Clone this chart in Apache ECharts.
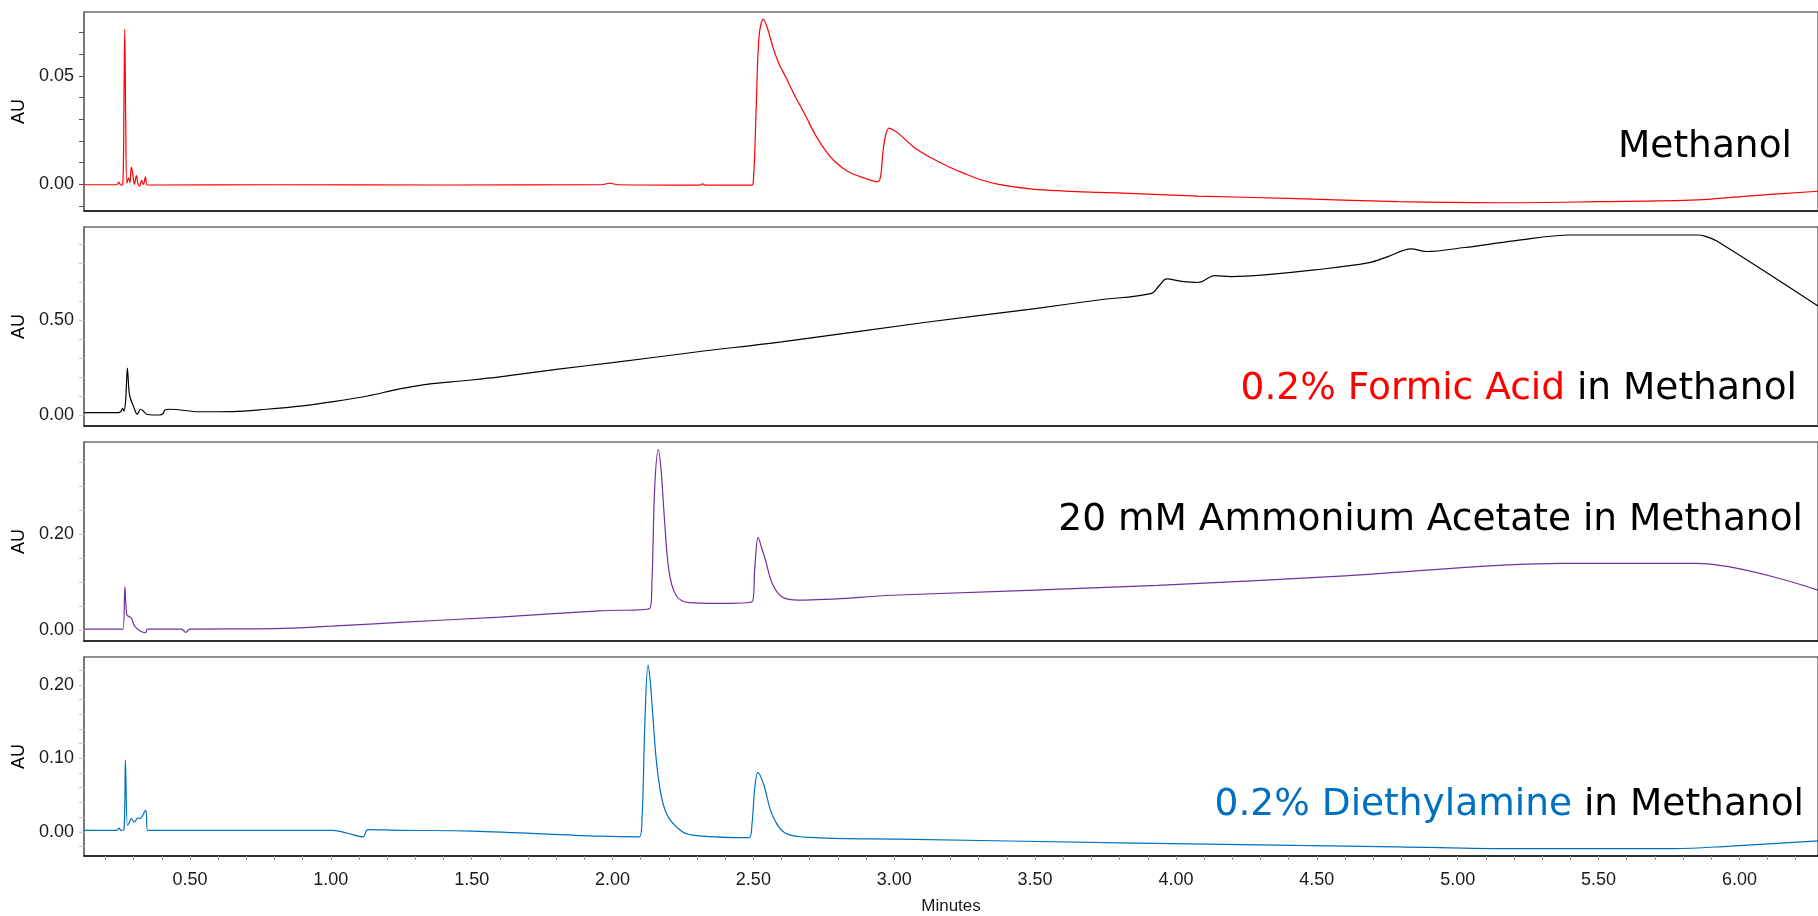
<!DOCTYPE html>
<html>
<head>
<meta charset="utf-8">
<title>Mobile phase additive comparison</title>
<script src="https://cdn.jsdelivr.net/npm/echarts@6/dist/echarts.min.js"></script>
<style>
  html, body { margin: 0; padding: 0; background: #ffffff; }
  #chart { width: 1818px; height: 916px; }
</style>
</head>
<body>
<div id="chart"></div>
<script>
// Retention time axis (minutes)
const timeMin = 0.124;
const timeMax = 6.279;

// Methanol (red trace)
const methanolT = [0.125, 0.24, 0.247, 0.255, 0.262, 0.266, 0.2686, 0.272, 0.276, 0.282, 0.287, 0.292, 0.298, 0.303, 0.31, 0.316, 0.322, 0.328, 0.335, 0.342, 0.348, 0.36, 0.8, 1.4, 1.96, 1.99, 2.02, 2.31, 2.32, 2.33, 2.49, 2.499, 2.51, 2.52, 2.535, 2.55, 2.57, 2.59, 2.614, 2.649, 2.684, 2.72, 2.755, 2.79, 2.837, 2.896, 2.942, 2.952, 2.96, 2.97, 2.982, 3.0, 3.015, 3.075, 3.134, 3.193, 3.252, 3.31, 3.37, 3.49, 3.607, 3.725, 3.9, 4.079, 4.4, 4.788, 5.142, 5.497, 5.851, 6.028, 6.279];
const methanolAU = [-0.0002, -0.0002, 0.001, -0.0004, 0.0, 0.04, 0.0716, 0.03, 0.0005, 0.003, 0.0008, 0.008, 0.004, 0.0, 0.004, 0.0, -0.0008, 0.0018, 0.0, 0.0035, -0.0003, -0.0003, -0.0002, -0.0003, -0.0002, 0.0005, -0.0002, -0.0004, 0.0002, -0.0004, -0.0004, 0.0, 0.035, 0.068, 0.0762, 0.072, 0.063, 0.0559, 0.0497, 0.0404, 0.032, 0.0228, 0.0158, 0.0104, 0.0058, 0.0028, 0.0012, 0.004, 0.015, 0.023, 0.0259, 0.0248, 0.0235, 0.0166, 0.012, 0.0081, 0.0048, 0.002, 0.0, -0.0022, -0.0031, -0.0037, -0.0045, -0.0054, -0.0065, -0.008, -0.0085, -0.008, -0.0072, -0.0054, -0.0032];

// 0.2% formic acid in methanol (black trace)
const formicT = [0.125, 0.245, 0.255, 0.261, 0.266, 0.272, 0.278, 0.283, 0.287, 0.3, 0.313, 0.325, 0.335, 0.346, 0.37, 0.393, 0.405, 0.411, 0.429, 0.535, 0.65, 0.772, 0.9, 1.008, 1.13, 1.244, 1.36, 1.47, 1.6, 1.8, 2.0, 2.29, 2.6, 3.113, 3.5, 3.725, 3.914, 3.94, 3.967, 4.02, 4.079, 4.138, 4.197, 4.315, 4.492, 4.681, 4.752, 4.835, 4.888, 5.024, 5.2, 5.4, 5.851, 5.88, 5.92, 6.279];
const formicAU = [0.012, 0.012, 0.018, 0.035, 0.02, 0.08, 0.246, 0.14, 0.096, 0.044, 0.004, 0.03, 0.02, 0.004, 0.0, 0.0, 0.008, 0.026, 0.03, 0.017, 0.018, 0.03, 0.048, 0.07, 0.1, 0.137, 0.165, 0.18, 0.2, 0.24, 0.275, 0.33, 0.385, 0.488, 0.56, 0.605, 0.64, 0.68, 0.716, 0.703, 0.697, 0.733, 0.728, 0.737, 0.763, 0.8, 0.833, 0.874, 0.86, 0.881, 0.916, 0.947, 0.947, 0.94, 0.915, 0.573];

// 20 mM ammonium acetate in methanol (purple trace)
const acetateT = [0.125, 0.262, 0.269, 0.276, 0.285, 0.293, 0.3, 0.305, 0.323, 0.343, 0.349, 0.47, 0.485, 0.5, 0.8, 1.0, 1.244, 1.6, 1.953, 2.132, 2.14, 2.15, 2.163, 2.173, 2.183, 2.2, 2.225, 2.272, 2.366, 2.496, 2.505, 2.517, 2.53, 2.543, 2.567, 2.602, 2.662, 3.016, 3.934, 4.6, 5.373, 5.845, 6.279];
const acetateAU = [0.002, 0.002, 0.09, 0.031, 0.028, 0.024, 0.012, 0.007, -0.002, -0.0055, 0.002, 0.002, -0.005, 0.002, 0.003, 0.008, 0.016, 0.027, 0.04, 0.045, 0.1, 0.3, 0.376, 0.33, 0.243, 0.125, 0.073, 0.057, 0.0555, 0.059, 0.13, 0.193, 0.17, 0.146, 0.097, 0.069, 0.0625, 0.073, 0.093, 0.113, 0.139, 0.139, 0.083];

// 0.2% diethylamine in methanol (blue trace)
const diethylT = [0.125, 0.24, 0.248, 0.255, 0.266, 0.271, 0.278, 0.284, 0.291, 0.303, 0.315, 0.323, 0.343, 0.35, 1.008, 1.06, 1.114, 1.132, 1.244, 1.5, 1.953, 2.095, 2.105, 2.115, 2.126, 2.134, 2.142, 2.16, 2.189, 2.248, 2.307, 2.484, 2.495, 2.505, 2.516, 2.537, 2.567, 2.614, 2.72, 3.016, 3.8, 4.788, 5.2, 5.767, 5.968, 6.279];
const diethylAU = [0.002, 0.002, 0.005, 0.002, 0.003, 0.098, 0.009, 0.012, 0.018, 0.013, 0.019, 0.018, 0.0296, 0.002, 0.002, -0.002, -0.007, 0.003, 0.002, 0.001, -0.006, -0.007, 0.02, 0.15, 0.227, 0.205, 0.164, 0.082, 0.027, 0.0, -0.0055, -0.008, 0.01, 0.06, 0.081, 0.064, 0.023, -0.002, -0.008, -0.01, -0.015, -0.0205, -0.023, -0.023, -0.0195, -0.0125];

// Y ranges, tick steps and labelled steps for each panel
const yMins = [-0.0123, -0.058, -0.0229, -0.033];
const yMaxs = [0.0795, 0.989, 0.392, 0.238];
const yTickSteps = [0.01, 0.1, 0.05, 0.02];
const yLabelSteps = [0.05, 0.5, 0.2, 0.1];

// Panel captions: [coloured part, colour, plain part]
const captions = [
  ['', '#000000', 'Methanol'],
  ['0.2% Formic Acid', '#ff0000', ' in Methanol'],
  ['', '#000000', '20 mM Ammonium Acetate in Methanol'],
  ['0.2% Diethylamine', '#0070c0', ' in Methanol']
];
const xLabelStep = 0.5;
const xTickStep = 0.1;

const traces = [
  { t: methanolT, v: methanolAU, color: '#ff0000' },
  { t: formicT, v: formicAU, color: '#000000' },
  { t: acetateT, v: acetateAU, color: '#7030a0' },
  { t: diethylT, v: diethylAU, color: '#0070c0' }
];

const panelTops = [12, 227, 442, 657];
const panelHeight = 199;
const captionRight = [1792, 1797, 1803, 1804];
const captionBaseline = [160, 402, 533, 818];

const tickFont = { fontFamily: '"Liberation Sans", Arial, sans-serif', fontSize: 18, color: '#1a1a1a' };
const captionFont = '"DejaVu Sans", Verdana, sans-serif';

function onStep(v, step) {
  const r = v / step;
  return Math.abs(r - Math.round(r)) < 1e-6;
}

const grids = [], xAxes = [], yAxes = [], series = [], graphics = [];

traces.forEach((tr, i) => {
  const last = i === traces.length - 1;
  grids.push({
    left: 84, right: -3, top: panelTops[i], height: panelHeight,
    show: true, borderColor: '#6e6e6e', borderWidth: 1.5, containLabel: false
  });
  xAxes.push({
    type: 'value', gridIndex: i, min: timeMin, max: timeMax,
    minInterval: xTickStep, maxInterval: xTickStep,
    axisLine: { show: true, onZero: false, lineStyle: { color: '#111', width: 1.5 } },
    axisTick: { show: last, length: 4, lineStyle: { color: '#9a9a9a', width: 1 } },
    axisLabel: {
      show: last, margin: 15, ...tickFont,
      showMinLabel: false, showMaxLabel: false,
      formatter: v => onStep(v, xLabelStep) ? v.toFixed(2) : ''
    },
    splitLine: { show: false },
    name: last ? 'Minutes' : '', nameLocation: 'middle', nameGap: 42,
    nameTextStyle: { ...tickFont, fontSize: 17 }
  });
  yAxes.push({
    type: 'value', gridIndex: i, min: yMins[i], max: yMaxs[i],
    minInterval: yTickSteps[i], maxInterval: yTickSteps[i],
    axisLine: { show: true, lineStyle: { color: '#6e6e6e', width: 1.5 } },
    axisTick: { show: true, length: 5, lineStyle: { color: i === 0 ? '#555' : '#c8c8c8', width: 1 } },
    axisLabel: {
      margin: 10, ...tickFont,
      showMinLabel: false, showMaxLabel: false,
      formatter: v => onStep(v, yLabelSteps[i]) ? v.toFixed(2) : ''
    },
    splitLine: { show: false },
    name: 'AU', nameLocation: 'middle', nameGap: 46, nameRotate: 90,
    nameTextStyle: { ...tickFont, fontSize: 18, color: '#000' }
  });
  series.push({
    type: 'line', xAxisIndex: i, yAxisIndex: i,
    data: tr.t.map((t, k) => [t, tr.v[k]]),
    showSymbol: false, smooth: 0.35,
    lineStyle: { color: tr.color, width: 1.2 },
    clip: true, animation: false, silent: true
  });
  const cap = captions[i];
  graphics.push({
    type: 'text', x: captionRight[i], y: captionBaseline[i] - 12.5,
    silent: true,
    style: {
      text: (cap[0] ? '{c|' + cap[0] + '}' : '') + '{b|' + cap[2] + '}',
      align: 'right', verticalAlign: 'middle',
      rich: {
        c: { fontFamily: captionFont, fontSize: 37.5, fill: cap[1] },
        b: { fontFamily: captionFont, fontSize: 37.5, fill: '#000000' }
      }
    }
  });
});

const chart = echarts.init(document.getElementById('chart'), null, { renderer: 'canvas' });
chart.setOption({
  backgroundColor: '#ffffff',
  animation: false,
  grid: grids,
  xAxis: xAxes,
  yAxis: yAxes,
  series: series,
  graphic: graphics
});
</script>
</body>
</html>
